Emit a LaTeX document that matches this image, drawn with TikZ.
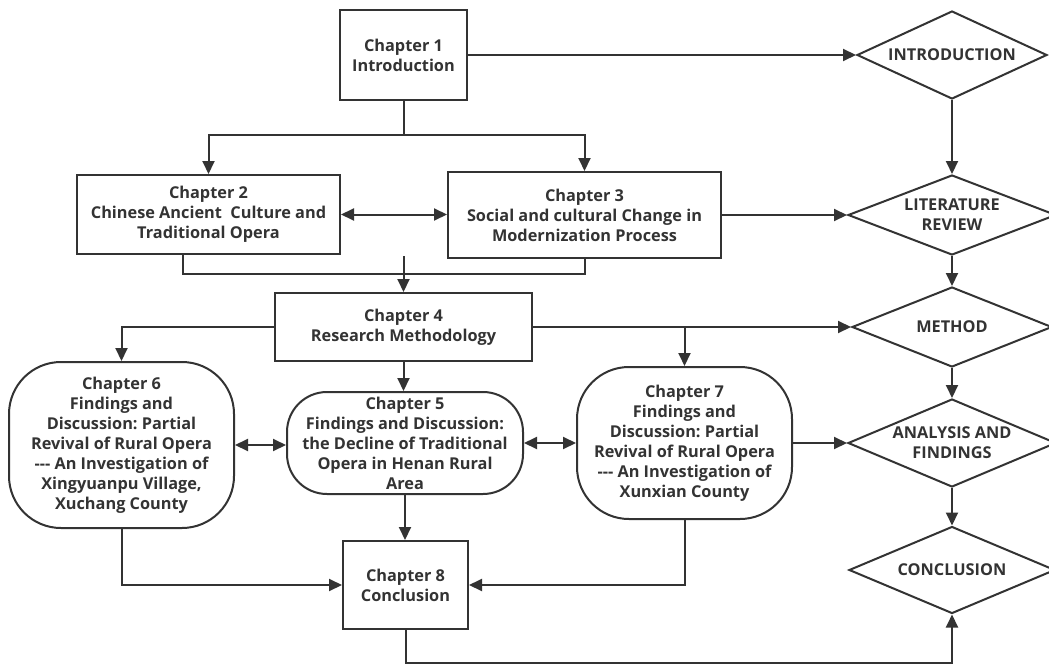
\documentclass[tikz,border=0pt]{standalone}
\usepackage{fontspec}
\setmainfont{Open Sans}
\frenchspacing
\usetikzlibrary{arrows.meta,shapes.geometric}
\definecolor{ink}{HTML}{333333}
\tikzset{
  every node/.style={font=\fontsize{16.3}{20}\selectfont\bfseries\frenchspacing, text=ink, align=center, inner sep=0pt},
  box/.style={draw=ink, line width=2pt, rectangle},
  rbox/.style={draw=ink, line width=2pt, rectangle, rounded corners=42pt},
  dia/.style={draw=ink, line width=2pt, diamond, shape aspect=2.3},
  conn/.style={draw=ink, line width=2pt},
  arr/.style={conn, -{Triangle[length=13pt,width=12pt]}},
  darr/.style={conn, {Triangle[length=13pt,width=12pt]}-{Triangle[length=13pt,width=12pt]}},
}
\begin{document}
\begin{tikzpicture}[x=1pt,y=-1pt]
\useasboundingbox (0,0) rectangle (1049,666);
\fill[white] (0,0) rectangle (1049,666);
% chapter boxes
\node[box, minimum width=127pt, minimum height=90pt] (ch1) at (403.5,55) {Chapter 1\\Introduction};
\node[box, minimum width=263pt, minimum height=79pt] (ch2) at (208.5,214.5) {Chapter 2\\Chinese Ancient\ \ Culture and\\Traditional Opera};
\node[box, minimum width=273pt, minimum height=86pt] (ch3) at (584.5,215) {Chapter 3\\Social and cultural Change in\\Modernization Process};
\node[box, minimum width=257pt, minimum height=68pt] (ch4) at (403.5,327) {Chapter 4\\Research Methodology};
\node[rbox, minimum width=236pt, minimum height=102pt, rounded corners=40pt] (ch5) at (405,443) {Chapter 5\\Findings and Discussion:\\the Decline of Traditional\\Opera in Henan Rural\\Area};
\node[rbox, minimum width=225pt, minimum height=166pt, rounded corners=52pt] (ch6) at (121.5,445) {Chapter 6\\Findings and\\Discussion: Partial\\Revival of Rural Opera\\-{}-{}- An Investigation of\\Xingyuanpu Village,\\Xuchang County};
\node[rbox, minimum width=215pt, minimum height=152pt, rounded corners=52pt] (ch7) at (684.5,443) {Chapter 7\\Findings and\\Discussion: Partial\\Revival of Rural Opera\\-{}-{}- An Investigation of\\Xunxian County};
\node[box, minimum width=125pt, minimum height=88pt] (ch8) at (405.5,585) {Chapter 8\\Conclusion};
% diamonds
\node[dia, minimum width=190pt, minimum height=88pt] (intro) at (952,55) {INTRODUCTION};
\node[dia, minimum width=208pt, minimum height=80pt] (lit) at (952,215) {LITERATURE\\REVIEW};
\node[dia, minimum width=200pt, minimum height=80pt] (meth) at (952,327) {METHOD};
\node[dia, minimum width=208pt, minimum height=88pt] (anal) at (952,443) {ANALYSIS AND\\FINDINGS};
\node[dia, minimum width=206pt, minimum height=87pt] (concl) at (952,570) {CONCLUSION};
% junction coordinates
\coordinate (s1) at (403.5,135);
\coordinate (j2) at (183,274);
\coordinate (j4) at (403.5,256);
\coordinate (bot) at (405.5,663);
% connectors
\draw[arr] (ch1.east) -- (intro.west);
\draw[conn] (ch1.south) -- (s1);
\draw[arr] (s1) -| (ch2.north);
\draw[arr] (s1) -| (ch3.north);
\draw[darr] (ch2.east) -- (ch2.east -| ch3.west);
\draw[arr] (ch3.east) -- (lit.west);
\draw[conn] (ch2.south -| j2) -- (j2) -- (j2 -| ch3.south) -- (ch3.south);
\draw[arr] (j4) -- (ch4.north);
\draw[arr] (ch4.west) -| (ch6.north);
\draw[arr] (ch4.east) -- (meth.west);
\draw[arr] (ch4.east -| ch7.north) -- (ch7.north);
\draw[arr] (ch4.south) -- (ch4.south |- ch5.north);
\draw[darr] (ch6.east) -- (ch6.east -| ch5.west);
\draw[darr] (ch5.east) -- (ch7.west);
\draw[arr] (ch7.east) -- (anal.west);
\draw[arr] (ch5.south) -- (ch5.south |- ch8.north);
\draw[arr] (ch6.south) |- (ch8.west);
\draw[arr] (ch7.south) |- (ch8.east);
\draw[arr] (ch8.south) -- (bot) -| (concl.south);
\draw[arr] (intro.south) -- (lit.north);
\draw[arr] (lit.south) -- (meth.north);
\draw[arr] (meth.south) -- (anal.north);
\draw[arr] (anal.south) -- (concl.north);
\end{tikzpicture}
\end{document}
